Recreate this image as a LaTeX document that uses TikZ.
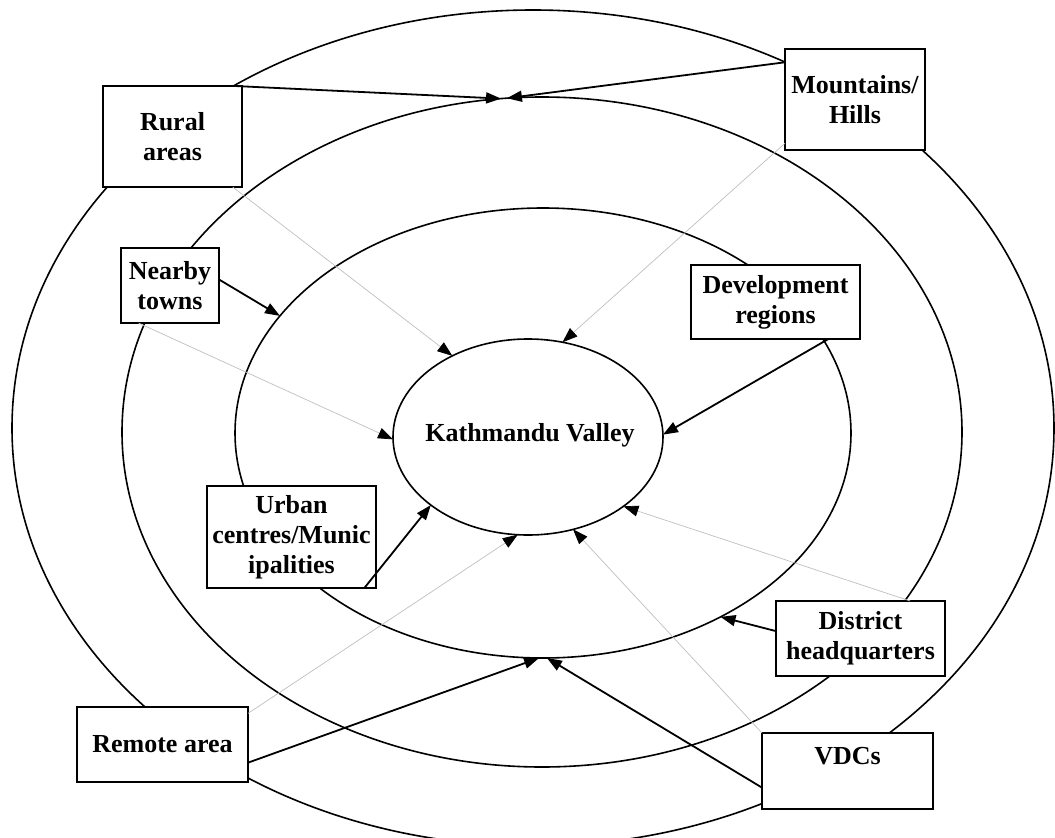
\documentclass[tikz,border=0pt]{standalone}
\usepackage{fontspec}
\setmainfont{Liberation Serif}
\usetikzlibrary{shapes.geometric,arrows.meta}
\tikzset{
  ring/.style={draw, ellipse, line width=1.6pt, inner sep=0pt, outer sep=0pt},
  areabox/.style={draw, line width=2pt, fill=white, align=center, inner sep=0pt, outer sep=0pt, font=\fontsize{26}{30}\selectfont\bfseries},
  flow/.style={line width=1.8pt, -{Triangle[length=15pt,width=11pt]}},
  faint/.style={draw=gray!50, line width=0.7pt, -{Triangle[length=15pt,width=11pt,black]}}
}
\begin{document}
\begin{tikzpicture}[x=1pt,y=-1pt]
	\useasboundingbox (0,0) rectangle (1055,838);
	\clip (0,0) rectangle (1055,838);
	\node[ring, minimum width=1042pt, minimum height=836pt] (ring1) at (533,428) {};
	\node[ring, minimum width=840pt, minimum height=670pt] (ring2) at (542,432) {};
	\node[ring, minimum width=616pt, minimum height=450pt] (ring3) at (543,433) {};
	\node[ring, minimum width=270pt, minimum height=196pt] (valley) at (528,437) {};
	\node[font=\fontsize{26}{30}\selectfont\bfseries] (kv) at (530,435) {Kathmandu Valley};
	\node[areabox, minimum width=139pt, minimum height=101pt] (rural) at (172.5,136.5) {Rural\\areas};
	\node[areabox, minimum width=140pt, minimum height=101pt] (mount) at (855,99.5) {Mountains/\\Hills};
	\node[areabox, minimum width=98pt, minimum height=75pt] (nearby) at (170,285.5) {Nearby\\towns};
	\node[areabox, minimum width=169pt, minimum height=74pt] (devel) at (775.5,302) {Development\\regions};
	\node[areabox, minimum width=169pt, minimum height=102pt] (urban) at (291.5,537) {Urban\\centres/Munic\\ipalities};
	\node[areabox, minimum width=169pt, minimum height=75pt] (district) at (860.5,638.5) {District\\headquarters};
	\node[areabox, minimum width=171pt, minimum height=75pt] (remote) at (162.5,744.5) {Remote area};
	\node[areabox, minimum width=171pt, minimum height=76pt] (vdc) at (847.5,771) {VDCs\\\mbox{}};
	% thin links to the valley
	\draw[faint] (rural.320) -- (valley.133);
	\draw[faint] (mount.212) -- (valley.70);
	\draw[faint] (nearby.230) -- (valley.181);
	\draw[faint] (remote.20) -- (valley.264);
	\draw[faint] (vdc.north west) -- (valley.296);
	\draw[faint] (district.37) -- (valley.324);
	\draw[flow] (rural.39) -- (ring2.97);
	\draw[flow] (mount.152) -- (ring2.96);
	\draw[flow] (nearby.7) -- (ring3.156);
	\draw[flow] (devel.325) -- (valley.1);
	\draw[flow] (urban.325) -- (valley.215);
	\draw[flow] (district.175) -- (ring3.314);
	\draw[flow] (remote.348) -- (ring3.269);
	\draw[flow] (vdc.191) -- (ring3.271);
\end{tikzpicture}
\end{document}
